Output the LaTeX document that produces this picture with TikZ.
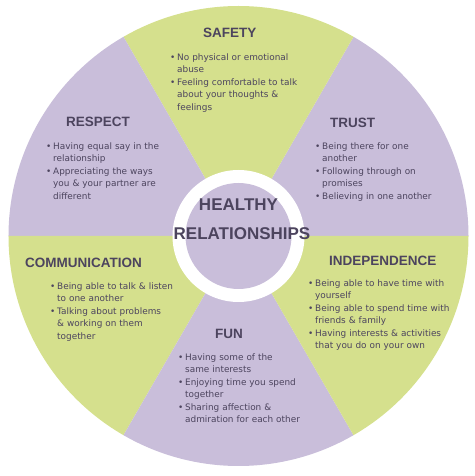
\documentclass[tikz,border=0pt]{standalone}
\usepackage{fontspec}
\setmainfont{DejaVu Sans}
\newfontfamily\headfont{Liberation Sans}
\definecolor{segGreen}{RGB}{213,224,141}
\definecolor{segPurple}{RGB}{201,190,218}
\definecolor{ink}{RGB}{76,68,94}
\newcommand{\bitem}[1]{\noindent\hangindent=7pt\hangafter=1\makebox[7pt][l]{\textbullet}#1\par}

\begin{document}
\begin{tikzpicture}
  [x=1pt,y=1pt,
   head/.style={font=\headfont\bfseries\fontsize{13.5}{16}\selectfont,text=ink,inner sep=0pt,anchor=west},
   body/.style={font=\fontsize{8.9}{12.4}\selectfont,text=ink,inner sep=0pt,anchor=north west,text width=160pt,align=left},
   title/.style={font=\headfont\bfseries\fontsize{17}{20}\selectfont,text=ink,inner sep=0pt}]
  \useasboundingbox (-238.5,-240) rectangle (235.5,236);
  \foreach \a/\c in {0/segPurple,60/segGreen,120/segPurple,180/segGreen,240/segPurple,300/segGreen}
    \fill[\c] (0,0) -- (\a:230pt) arc[start angle=\a,delta angle=60,radius=230pt] -- cycle;
  \fill[white] (0,0) circle[radius=66pt];
  \fill[segPurple] (0,0) circle[radius=53pt];

  \node[title] (healthy) at (0,31) {HEALTHY};
  \node[title] (relationships) at (3.5,2) {RELATIONSHIPS};

  \node[head] (safety) at (-35.5,203) {SAFETY};
  \node[body] (safetyList) at (-68.5,182.5)
    {\bitem{No physical or emotional\newline abuse}%
     \bitem{Feeling comfortable to talk\newline about your thoughts \&\newline feelings}};

  \node[head] (respect) at (-172.5,114) {RESPECT};
  \node[body] (respectList) at (-192.5,93.5)
    {\bitem{Having equal say in the\newline relationship}%
     \bitem{Appreciating the ways\newline you \& your partner are\newline different}};

  \node[head] (trust) at (91.5,113) {TRUST};
  \node[body] (trustList) at (76.5,93.5)
    {\bitem{Being there for one\newline another}%
     \bitem{Following through on\newline promises}%
     \bitem{Believing in one another}};

  \node[head] (communication) at (-213.5,-27) {COMMUNICATION};
  \node[body] (communicationList) at (-188.5,-46.5)
    {\bitem{Being able to talk \& listen\newline to one another}%
     \bitem{Talking about problems\newline \& working on them\newline together}};

  \node[head] (fun) at (-23.5,-98) {FUN};
  \node[body] (funList) at (-60.5,-117.5)
    {\bitem{Having some of the\newline same interests}%
     \bitem{Enjoying time you spend\newline together}%
     \bitem{Sharing affection \&\newline admiration for each other}};

  \node[head] (independence) at (90.5,-25) {INDEPENDENCE};
  \node[body] (independenceList) at (69.5,-43.5)
    {\bitem{Being able to have time with\newline yourself}%
     \bitem{Being able to spend time with\newline friends \& family}%
     \bitem{Having interests \& activities\newline that you do on your own}};
\end{tikzpicture}
\end{document}
